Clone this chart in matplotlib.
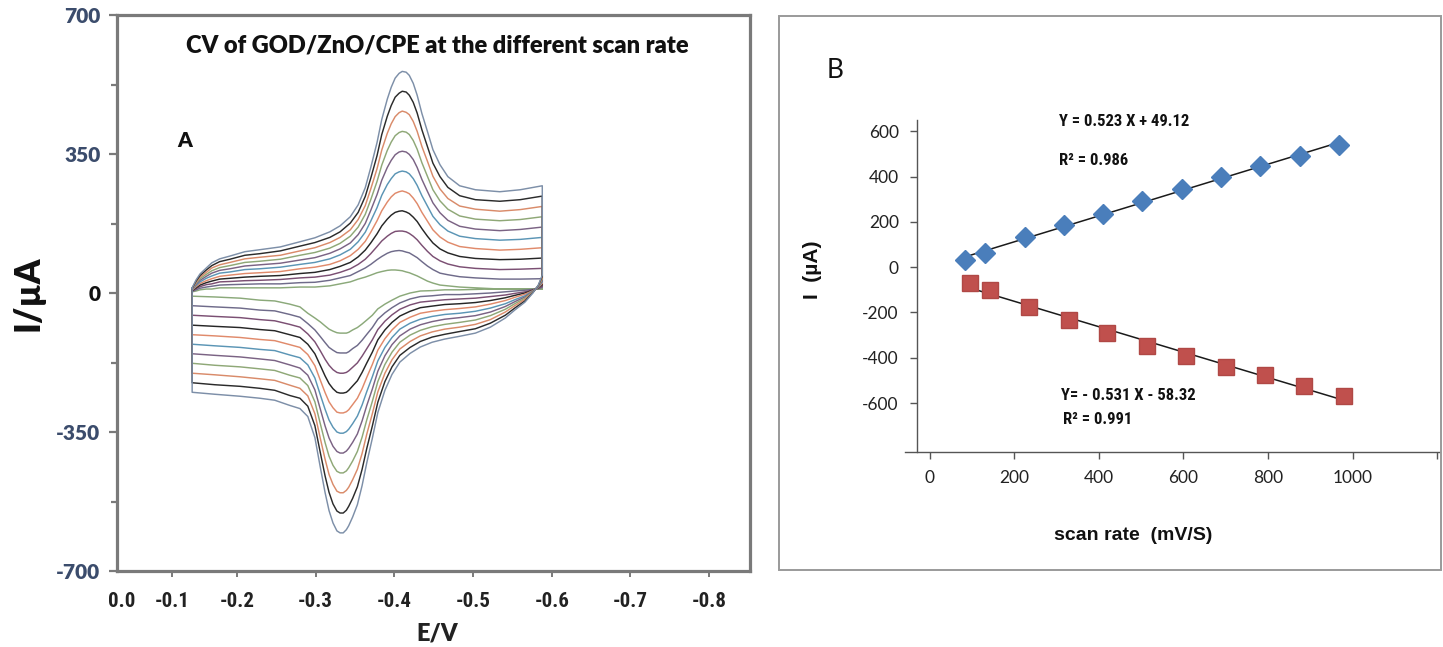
import matplotlib
matplotlib.use("Agg")
import matplotlib.pyplot as plt
import numpy as np
from matplotlib.patches import Rectangle

# ---------------- Panel A: cyclic voltammograms (E in V, I in uA) ----------------
# anodic (upper) branch potentials, left -> right
E_fwd = [-0.143, -0.148, -0.153, -0.161, -0.168, -0.178, -0.191, -0.210, -0.229, -0.255,
         -0.280, -0.299, -0.318, -0.331, -0.344, -0.354, -0.363, -0.370, -0.378, -0.384,
         -0.391, -0.396, -0.401, -0.406, -0.410, -0.415, -0.419, -0.424, -0.429, -0.435,
         -0.442, -0.449, -0.458, -0.468, -0.483, -0.503, -0.534, -0.560, -0.588]
# cathodic (lower) branch potentials, right -> left
E_rev = [-0.588, -0.583, -0.576, -0.566, -0.553, -0.541, -0.522, -0.503, -0.483, -0.464,
         -0.448, -0.433, -0.420, -0.407, -0.397, -0.388, -0.379, -0.372, -0.365, -0.359,
         -0.353, -0.347, -0.342, -0.339, -0.335, -0.331, -0.327, -0.322, -0.317, -0.312,
         -0.306, -0.299, -0.290, -0.280, -0.267, -0.248, -0.229, -0.204, -0.172, -0.143]

cv1_fwd = [3, 5, 8, 10, 10, 13, 13, 13, 13, 13, 15, 15, 18, 23, 28, 35, 40, 45, 51, 54,
           57, 58, 58, 57, 56, 53, 51, 47, 43, 37, 30, 25, 20, 18, 15, 13, 10, 10, 10]
cv2_fwd = [4, 8, 12, 15, 17, 20, 21, 22, 23, 23, 26, 27, 32, 38, 44, 54, 63, 72, 84, 92,
           100, 104, 106, 107, 106, 103, 101, 95, 89, 79, 68, 59, 50, 46, 41, 38, 35, 35, 36]
cv3_fwd = [5, 11, 16, 21, 23, 28, 29, 31, 32, 34, 38, 40, 45, 52, 61, 72, 85, 99, 117, 131,
           143, 150, 155, 156, 156, 154, 150, 143, 134, 120, 105, 92, 81, 73, 66, 62, 59, 60, 62]
cv4_fwd = [6, 13, 20, 26, 30, 35, 37, 40, 42, 44, 49, 52, 59, 67, 77, 91, 108, 126, 149, 169,
           186, 196, 203, 206, 207, 204, 200, 191, 180, 162, 143, 126, 111, 101, 92, 87, 84, 85, 88]
cv5_fwd = [7, 16, 24, 31, 36, 42, 45, 49, 51, 54, 61, 65, 72, 81, 94, 110, 130, 153, 182, 207,
           229, 242, 251, 255, 257, 254, 250, 239, 225, 203, 181, 159, 141, 128, 117, 112, 108, 110, 114]
cv6_fwd = [8, 19, 28, 37, 43, 50, 53, 59, 61, 65, 72, 77, 86, 96, 110, 129, 153, 181, 215, 246,
           273, 288, 300, 305, 307, 305, 300, 288, 271, 245, 219, 193, 172, 156, 143, 137, 133, 135, 140]
cv7_fwd = [9, 22, 32, 42, 50, 57, 61, 68, 71, 75, 83, 89, 100, 111, 126, 147, 175, 208, 248, 284,
           316, 334, 348, 355, 357, 355, 349, 336, 316, 286, 256, 227, 202, 183, 168, 161, 157, 160, 166]
cv8_fwd = [10, 25, 36, 47, 56, 64, 69, 77, 80, 85, 95, 102, 113, 125, 143, 166, 198, 235, 281, 322,
           359, 380, 396, 404, 407, 405, 399, 384, 362, 328, 294, 260, 232, 211, 194, 186, 182, 185, 192]
cv9_fwd = [11, 27, 40, 52, 63, 71, 77, 86, 90, 95, 106, 114, 127, 140, 159, 185, 220, 262, 313, 360,
           402, 426, 444, 454, 458, 455, 449, 432, 407, 369, 332, 294, 262, 238, 219, 211, 206, 210, 218]
cv10_fwd = [12, 30, 44, 58, 69, 79, 85, 95, 99, 106, 118, 127, 140, 154, 176, 203, 243, 289, 346, 399,
            445, 472, 493, 503, 508, 506, 498, 480, 453, 411, 369, 327, 293, 266, 245, 235, 231, 235, 244]
cv11_fwd = [13, 33, 48, 63, 76, 86, 93, 104, 109, 116, 129, 139, 154, 169, 192, 222, 265, 316, 379, 437,
            488, 518, 541, 553, 558, 556, 548, 528, 498, 452, 407, 361, 323, 293, 270, 260, 255, 260, 270]

cv1_rev = [10, 10, 10, 10, 10, 10, 10, 9, 8, 8, 6, 5, 0, -8, -18, -28, -40, -56, -68, -78,
           -87, -93, -99, -101, -101, -101, -100, -96, -91, -83, -73, -63, -51, -35, -28, -20, -18, -13, -10, -8]
cv2_rev = [14, 11, 9, 7, 5, 3, 0, -2, -4, -4, -7, -9, -15, -25, -37, -50, -66, -87, -104, -119,
           -132, -140, -148, -151, -151, -151, -150, -144, -137, -125, -110, -93, -77, -61, -54, -45, -43, -38, -35, -32]
cv3_rev = [17, 12, 8, 3, -1, -5, -9, -13, -15, -17, -20, -23, -30, -41, -55, -71, -92, -118, -140, -159,
           -176, -187, -196, -200, -202, -202, -200, -193, -182, -167, -146, -123, -103, -86, -79, -70, -67, -62, -59, -56]
cv4_rev = [21, 13, 7, 0, -6, -12, -19, -24, -27, -29, -33, -37, -46, -58, -74, -93, -118, -149, -176, -200,
           -221, -234, -245, -250, -252, -252, -250, -241, -228, -209, -183, -153, -129, -112, -105, -95, -92, -87, -84, -81]
cv5_rev = [24, 14, 6, -3, -11, -19, -28, -35, -39, -42, -46, -51, -61, -74, -93, -115, -144, -180, -212, -241,
           -265, -281, -294, -299, -302, -302, -300, -289, -274, -251, -220, -183, -155, -137, -130, -120, -117, -112, -108, -105]
cv6_rev = [28, 15, 5, -7, -17, -27, -38, -46, -51, -54, -59, -66, -76, -91, -112, -137, -171, -211, -248, -282,
           -310, -329, -343, -349, -353, -353, -350, -338, -320, -293, -257, -214, -181, -163, -156, -145, -142, -137, -133, -129]
cv7_rev = [31, 16, 4, -10, -22, -34, -48, -57, -62, -66, -72, -80, -91, -108, -130, -158, -197, -242, -283, -322,
           -355, -376, -391, -398, -403, -403, -399, -386, -365, -335, -293, -244, -207, -189, -181, -170, -166, -161, -157, -153]
cv8_rev = [35, 17, 3, -13, -27, -41, -57, -68, -74, -79, -85, -94, -106, -124, -149, -180, -223, -273, -319, -363,
           -399, -423, -440, -448, -453, -453, -449, -434, -411, -377, -330, -274, -233, -214, -207, -195, -191, -186, -182, -177]
cv9_rev = [38, 18, 2, -16, -32, -48, -67, -79, -86, -91, -98, -108, -122, -141, -168, -202, -249, -304, -355, -404,
           -444, -470, -489, -497, -503, -503, -499, -482, -457, -419, -367, -304, -259, -240, -232, -220, -216, -211, -206, -202]
cv10_rev = [42, 19, 1, -20, -38, -56, -76, -90, -97, -104, -111, -122, -137, -157, -186, -223, -275, -335, -391, -444,
            -488, -517, -537, -547, -554, -554, -549, -531, -502, -461, -403, -334, -285, -265, -258, -245, -240, -235, -231, -226]
cv11_rev = [45, 20, 0, -23, -43, -63, -86, -101, -109, -116, -124, -136, -152, -174, -205, -245, -301, -366, -427, -485,
            -533, -564, -586, -596, -604, -604, -599, -579, -548, -503, -440, -364, -311, -291, -283, -270, -265, -260, -255, -250]

cv_curves = [(cv1_fwd, cv1_rev), (cv2_fwd, cv2_rev), (cv3_fwd, cv3_rev), (cv4_fwd, cv4_rev),
             (cv5_fwd, cv5_rev), (cv6_fwd, cv6_rev), (cv7_fwd, cv7_rev), (cv8_fwd, cv8_rev),
             (cv9_fwd, cv9_rev), (cv10_fwd, cv10_rev), (cv11_fwd, cv11_rev)]
cv_colors = ["#8ba97a", "#6f6b8a", "#7b4f73", "#262626", "#e08a6b", "#5b95b5",
             "#7b6384", "#8fa877", "#d98b6a", "#2b2b2b", "#7d8fa8"]

a_yticks = [-700, -350, 0, 350, 700]
a_yminor = [-525, -175, 175, 525]
a_xtick_pos = [-0.053, -0.118, -0.2, -0.3, -0.4, -0.5, -0.6, -0.7, -0.8]
a_xtick_lab = ["0.0", "-0.1", "-0.2", "-0.3", "-0.4", "-0.5", "-0.6", "-0.7", "-0.8"]

# ---------------- Panel B: peak current vs scan rate ----------------
scan_ox = [84, 130, 224, 318, 410, 503, 596, 688, 781, 875, 967]
Ipa = [32, 64, 132, 188, 236, 293, 346, 397, 446, 491, 539]
scan_red = [95, 142, 234, 329, 420, 514, 606, 700, 793, 886, 980]
Ipc = [-69, -100, -177, -233, -290, -346, -391, -442, -478, -526, -568]
b_xticks = [0, 200, 400, 600, 800, 1000, 1200]
b_xlabels = ["0", "200", "400", "600", "800", "1000", ""]
b_yticks = [-600, -400, -200, 0, 200, 400, 600]

W, H = 1443, 647
fig = plt.figure(figsize=(W / 100, H / 100), dpi=100)
fig.patch.set_facecolor("white")


def fx(px):
    return px / W


def fy(py):
    return 1 - py / H


NARROW = dict(fontfamily=["Roboto Condensed", "Roboto"], fontstretch="condensed")
CAL = ["Lato", "DejaVu Sans"]
ARIAL = ["Liberation Sans", "DejaVu Sans"]

# ---------- Panel A ----------
axA = fig.add_axes([fx(117), fy(571), fx(750) - fx(117), fy(15) - fy(571)])
for (fw, rv), col in zip(cv_curves, cv_colors):
    xs = list(E_fwd) + list(E_rev) + [E_fwd[0]]
    ys = list(fw) + list(rv) + [fw[0]]
    axA.plot(xs, ys, color=col, lw=1.05, solid_joinstyle="round")

axA.set_xlim(-0.0475, -0.852)
axA.set_ylim(-700, 700)
for s in axA.spines.values():
    s.set_color("#7a7a7a")
    s.set_linewidth(2.3)
axA.set_yticks(a_yticks)
axA.set_yticks(a_yminor, minor=True)
axA.set_yticklabels([str(v) for v in a_yticks], fontfamily=CAL, fontweight="heavy", fontsize=15)
for lab, v in zip(axA.get_yticklabels(), a_yticks):
    lab.set_color("#111111" if v == 0 else "#3b4c6c")
axA.tick_params(axis="y", which="major", direction="out", length=6, width=1.6, color="#7a7a7a", pad=6)
axA.tick_params(axis="y", which="minor", direction="out", length=4, width=1.6, color="#7a7a7a")
axA.set_xticks(a_xtick_pos)
axA.set_xticklabels(a_xtick_lab, fontweight="bold", fontsize=15, color="#222222", **NARROW)
axA.tick_params(axis="x", direction="out", length=4, width=1.4, color="#7a7a7a", pad=11)
axA.xaxis.get_major_ticks()[0].tick1line.set_visible(False)

fig.text(fx(437), fy(45), "CV of GOD/ZnO/CPE at the different scan rate", ha="center", va="center",
         fontfamily=CAL, fontweight="heavy", fontsize=17, color="#111111")
fig.text(fx(185), fy(141), "A", ha="center", va="center", fontfamily=CAL, fontweight="heavy",
         fontsize=15, color="#111111")
fig.text(fx(28), fy(293), "I/µA", ha="center", va="center", rotation=90, fontfamily=CAL,
         fontweight="heavy", fontsize=25, color="#111111")
fig.text(fx(437), fy(633), "E/V", ha="center", va="center", fontfamily=CAL, fontweight="heavy",
         fontsize=17, color="#222222")

# ---------- Panel B ----------
fig.patches.append(Rectangle((fx(779), fy(570)), fx(1441) - fx(779), fy(16) - fy(570),
                             transform=fig.transFigure, fill=False, edgecolor="#9a9a9a", lw=1.4))

axB = fig.add_axes([fx(905), fy(452), fx(1440) - fx(905), fy(120) - fy(452)])
axB.set_xlim(-59, 1207)
axB.set_ylim(-816, 650)
for k in ("top", "right"):
    axB.spines[k].set_visible(False)
axB.spines["left"].set_position(("data", -31))
for k in ("left", "bottom"):
    axB.spines[k].set_color("#555555")
    axB.spines[k].set_linewidth(1.0)

po = np.polyfit(scan_ox, Ipa, 1)
pr = np.polyfit(scan_red, Ipc, 1)
xo = np.array([scan_ox[0] - 10, scan_ox[-1] + 8])
xr = np.array([scan_red[0] - 12, scan_red[-1] + 10])
axB.plot(xo, np.polyval(po, xo), color="#1a1a1a", lw=1.1, zorder=2)
axB.plot(xr, np.polyval(pr, xr), color="#1a1a1a", lw=1.1, zorder=2)
axB.plot(scan_ox, Ipa, "D", color="#4a7ebb", ms=10, mec="#4a7ebb", zorder=3)
axB.plot(scan_red, Ipc, "s", color="#c0504d", ms=11, mec="#b04845", zorder=3)

axB.set_xticks(b_xticks)
axB.set_xticklabels(b_xlabels, fontfamily=CAL, fontsize=12.5, color="#222222")
axB.set_yticks(b_yticks)
axB.set_yticklabels([str(v) for v in b_yticks], fontfamily=CAL, fontsize=12.5, color="#222222")
axB.tick_params(axis="x", direction="out", length=5, width=1.0, color="#555555", pad=8)
axB.tick_params(axis="y", direction="out", length=5, width=1.0, color="#555555", pad=8)

fig.text(fx(835), fy(70), "B", ha="center", va="center", fontfamily=CAL, fontsize=19, color="#111111")
fig.text(fx(1059), fy(121), "Y = 0.523 X + 49.12", ha="left", va="center",
         fontweight="bold", fontsize=12, color="#111111", **NARROW)
fig.text(fx(1059), fy(161), "R² = 0.986", ha="left", va="center",
         fontweight="bold", fontsize=12, color="#111111", **NARROW)
fig.text(fx(1061), fy(396), "Y= - 0.531 X - 58.32", ha="left", va="center",
         fontweight="bold", fontsize=12, color="#111111", **NARROW)
fig.text(fx(1063), fy(420), "R² = 0.991", ha="left", va="center",
         fontweight="bold", fontsize=12, color="#111111", **NARROW)
fig.text(fx(813), fy(270), "I  (µA)", ha="center", va="center", rotation=90,
         fontfamily=ARIAL, fontweight="bold", fontsize=15, color="#111111")
fig.text(fx(1133), fy(535), "scan rate  (mV/S)", ha="center", va="center",
         fontfamily=ARIAL, fontweight="bold", fontsize=14, color="#111111")

fig.savefig("out.png", dpi=100, facecolor="white")
